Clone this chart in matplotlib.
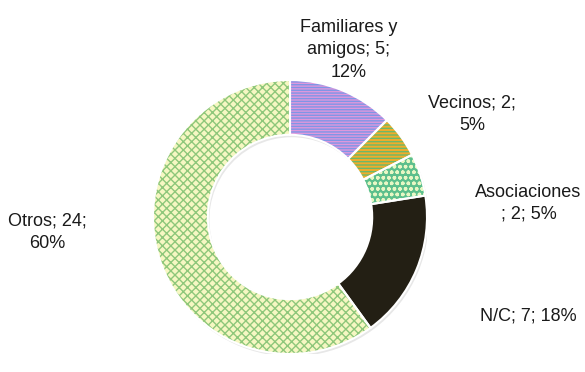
import matplotlib.pyplot as plt
from matplotlib.patches import Wedge

plt.rcParams['font.family'] = ['Liberation Sans', 'DejaVu Sans']
plt.rcParams['hatch.linewidth'] = 1.0

labels = ["Familiares y\namigos; 5;\n12%", "Vecinos; 2;\n5%", "Asociaciones\n; 2; 5%",
          "N/C; 7; 18%", "Otros; 24;\n60%"]
values = [5, 2, 2, 7, 24]
face_colors = ["#dd98dc", "#f0ac2c", "#5cbf8c", "#231f14", "#f6f7c2"]
hatch_colors = ["#7f95e6", "#6db868", "#e8f7c4", "#231f14", "#8ec77a"]
hatches = ["------", "-----", "ooo", None, "xxxx"]
# label anchor positions in data units (radius 1 = outer ring)
label_xy = [(0.43, 1.22), (1.33, 0.75), (1.74, 0.1), (1.74, -0.72), (-1.77, -0.11)]

fig = plt.figure(figsize=(5.85, 3.72), dpi=100)
ax = fig.add_axes([153 / 585, 18 / 372, 274 / 585, 274 / 372])
ax.set_xlim(-1, 1)
ax.set_ylim(-1, 1)
ax.set_aspect('equal')
ax.axis('off')

total = sum(values)
start = 90.0
for v, fc, hc, h in zip(values, face_colors, hatch_colors, hatches):
    sweep = 360.0 * v / total
    theta1, theta2 = start - sweep, start
    # faint shadow
    ax.add_patch(Wedge((0.012, -0.018), 1.0, theta1, theta2, width=0.4,
                       facecolor="#00000018", edgecolor="none", zorder=1))
    ax.add_patch(Wedge((0, 0), 1.0, theta1, theta2, width=0.4,
                       facecolor=fc, edgecolor="none", zorder=2))
    if h:
        ax.add_patch(Wedge((0, 0), 1.0, theta1, theta2, width=0.4, facecolor="none",
                           edgecolor=hc, linewidth=0, hatch=h, zorder=3))
    ax.add_patch(Wedge((0, 0), 1.0, theta1, theta2, width=0.4, facecolor="none",
                       edgecolor="white", linewidth=1.5, zorder=4))
    start = theta1

for lab, (x, y) in zip(labels, label_xy):
    ax.text(x, y, lab, ha='center', va='center', fontsize=13, color="#1a1a1a",
            linespacing=1.4, clip_on=False)

fig.savefig("out.png", dpi=100)
